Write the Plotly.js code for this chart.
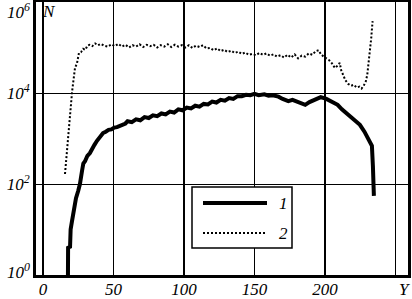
<!DOCTYPE html>
<html>
<head>
<meta charset="utf-8">
<script src="https://cdn.plot.ly/plotly-3.0.1.min.js"></script>
<style>html,body{margin:0;padding:0;background:#fff;}#chart{width:412px;height:299px;}</style>
</head>
<body>
<div id="chart"></div>
<script>
// Series 1 (thick solid line)
var y1 = [17.7, 17.8, 19.2, 19.6, 20.6, 22.0, 23.4, 25.0, 26.2, 27.7, 28.6, 29.8, 31.5, 33.3, 35.0, 36.5, 38.3, 40.5, 42.6, 44.5, 46.5, 48.5, 50.5, 52.5, 54.5, 56.5, 58.5,
  60, 63, 66, 69, 72, 75, 78, 81, 84, 87, 90, 93, 96, 99, 102, 105, 108, 111, 114, 117, 120, 123, 126, 129, 132, 135, 138,
  141, 144, 147, 150, 153, 157, 160, 163, 167, 170, 174, 177, 182, 186, 189, 194, 197, 201, 204, 209, 212, 215.6, 219, 222, 224.8, 228, 230.5, 232, 233.3, 234, 234.7];
var n1 = [1, 3.98, 4.17, 10, 15.5, 28.2, 49, 70.8, 100, 195, 282, 316, 417, 479, 631, 724, 891, 1122, 1318, 1413, 1549, 1585, 1738, 1778, 1905, 1950, 2138,
  2399, 2291, 2630, 2512, 2951, 2818, 3236, 3090, 3548, 3388, 3890, 3715, 4365, 4169, 4786, 4571, 5248, 5012, 5754, 5623, 6457, 6166, 7079, 6761, 7762, 7413, 8511,
  8511, 9120, 8913, 9550, 8913, 9333, 8710, 8913, 8318, 7413, 6607, 7079, 6026, 5495, 6310, 7413, 8128, 7413, 6607, 5495, 4365, 3467, 2818, 2399, 1995, 1413, 1023, 851, 692, 251, 55];

// Series 2 (dotted line)
var y2 = [15.6, 16.3, 17.0, 17.7, 18.4, 19.2, 19.9, 20.6, 21.3, 22.0, 22.7, 24.1, 25.5, 27.0, 28.5, 30.0, 31.5, 33.0, 35.0, 37.0, 39.0, 41.0, 43.5, 46.0, 48.5, 51.0, 53.5, 56.0, 58.5, 61.0, 63.5, 66.0, 68.5, 71.0, 73.5, 76.0, 78.5, 81.0, 83.5, 86.0, 88.5, 91.0, 93.5, 96.0, 98.5, 101.0, 103.5, 106.0, 108.5, 111.0, 113.5, 116.0, 118.5, 121.0, 123.5, 126.0, 128.5, 131.0, 133.5, 136.0, 138.5, 141.0, 143.5, 146.0, 148.5, 151.0, 153.5, 156.0, 158.5, 161.0, 163.5, 166.0, 168.5, 171.0, 173.5, 176.0, 178.5, 181.0, 183.5, 186.0, 188.5, 191.0, 193.5, 195.5, 197.0, 199.0, 201.0, 203.0, 205.0, 207.0, 209.0, 210.5, 211.5, 213.0, 214.5, 216.5, 218.5, 220.5, 222.5, 224.5, 226.0, 227.5, 229.0, 230.0, 230.8, 231.5, 232.2, 232.8, 233.3, 233.8];
var n2 = [166, 316, 537, 1000, 2089, 3548, 5623, 10470, 15850, 23990, 35480, 44670, 75860, 79430, 93330, 89130, 109600, 114800, 107200, 123000, 112200, 120200, 109600, 104700, 117500, 107200, 120200, 104700, 114800, 100000, 112200, 104700, 117500, 102300, 114800, 107200, 114800, 100000, 112200, 104700, 117500, 102300, 114800, 104700, 112200, 100000, 112200, 97720, 109600, 102300, 112200, 95500, 97720, 87100, 95500, 83180, 89130, 79430, 85110, 75860, 81280, 72440, 77620, 69180, 72440, 67610, 75860, 69180, 74130, 66070, 70790, 63100, 67610, 60260, 69180, 60260, 70790, 57540, 66070, 63100, 74130, 69180, 83180, 87100, 72440, 63100, 57540, 52480, 44670, 35480, 39810, 45710, 31620, 23990, 19050, 15850, 14450, 15140, 13180, 13800, 12590, 14450, 18200, 25120, 39810, 63100, 100000, 158500, 251200, 380200];

// Axis ticks
var xTickVals = [0, 50, 100, 150, 200, 250];
var xTickText = ['0', '50', '100', '150', '200', ' '];
var yTickVals = [100, 10000];
var yTickText = ['10<sup>2</sup>', '10<sup>4</sup>'];
var seriesNames = ['1', '2'];

var F = {family: 'Liberation Serif, Times New Roman, serif', size: 17, color: '#000', style: 'italic'};

var traces = [
  {x: y1, y: n1, type: 'scatter', mode: 'lines', name: seriesNames[0], line: {color: '#000', width: 4}, showlegend: false},
  {x: y2, y: n2, type: 'scatter', mode: 'lines', name: seriesNames[1], line: {color: '#000', width: 2, dash: '2px,2px'}, showlegend: false}
];

function px(p) { return (p - 36) / 372; }
function py(p) { return (275 - p) / 273; }

var layout = {
  width: 412, height: 299,
  margin: {l: 36, r: 4, t: 2, b: 24, pad: 0},
  paper_bgcolor: '#fff', plot_bgcolor: '#fff',
  font: F,
  showlegend: false,
  xaxis: {
    range: [-4.96, 258.9], tickvals: xTickVals, ticktext: xTickText,
    showgrid: true, gridcolor: '#000', gridwidth: 1.5,
    showline: true, linecolor: '#000', linewidth: 3, mirror: true,
    ticks: '', zeroline: false, tickfont: F, ticklabelstandoff: -3
  },
  yaxis: {
    type: 'log', range: [0, 6], tickvals: yTickVals, ticktext: yTickText,
    showgrid: true, gridcolor: '#000', gridwidth: 1,
    showline: true, linecolor: '#000', linewidth: 3, mirror: true,
    ticks: '', zeroline: false, tickfont: F
  },
  shapes: [
    {type: 'rect', xref: 'paper', yref: 'paper', x0: px(192), x1: px(292), y0: py(248), y1: py(187), line: {color: '#000', width: 1.5}, fillcolor: '#fff'},
    {type: 'line', xref: 'paper', yref: 'paper', x0: px(203), x1: px(267), y0: py(203), y1: py(203), line: {color: '#000', width: 4}},
    {type: 'line', xref: 'paper', yref: 'paper', x0: px(203), x1: px(265), y0: py(233), y1: py(233), line: {color: '#000', width: 2, dash: '2px,2px'}}
  ],
  annotations: [
    {text: '10<sup>6</sup>', xref: 'paper', yref: 'y', x: 0, y: 6, xanchor: 'right', yanchor: 'middle', xshift: -4, yshift: -9, showarrow: false, font: F},
    {text: '10<sup>0</sup>', xref: 'paper', yref: 'y', x: 0, y: 0, xanchor: 'right', yanchor: 'middle', xshift: -4, yshift: 4, showarrow: false, font: F},
    {text: 'N', xref: 'paper', yref: 'paper', x: px(49), y: py(12), xanchor: 'center', yanchor: 'middle', showarrow: false, font: F},
    {text: 'Y', xref: 'paper', yref: 'paper', x: px(404), y: py(289), xanchor: 'center', yanchor: 'middle', showarrow: false, font: F},
    {text: seriesNames[0], xref: 'paper', yref: 'paper', x: px(283), y: py(203), xanchor: 'center', yanchor: 'middle', showarrow: false, font: F},
    {text: seriesNames[1], xref: 'paper', yref: 'paper', x: px(283), y: py(233), xanchor: 'center', yanchor: 'middle', showarrow: false, font: F}
  ]
};

Plotly.newPlot('chart', traces, layout, {staticPlot: true, displayModeBar: false});
</script>
</body>
</html>
